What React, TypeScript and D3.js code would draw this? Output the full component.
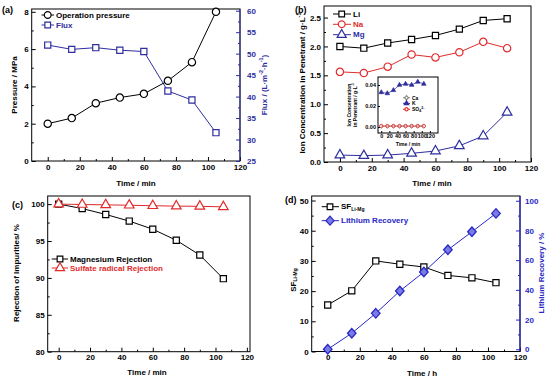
import React, { useEffect, useRef } from "react";
import * as d3 from "d3";

// time points shared by every panel
const time = [0, 15, 30, 45, 60, 75, 90, 105];

// (a)
const pressure = [2.0, 2.3, 3.1, 3.4, 3.6, 4.3, 5.3, 8.0];
const flux = [52.0, 51.0, 51.4, 50.8, 50.5, 41.3, 39.2, 31.6];

// (b)
const li = [2.0, 1.97, 2.06, 2.12, 2.19, 2.3, 2.45, 2.48];
const na = [1.56, 1.54, 1.65, 1.86, 1.81, 1.9, 2.08, 1.97];
const mg = [0.12, 0.11, 0.12, 0.15, 0.19, 0.28, 0.45, 0.86];
const kIon = [0.033, 0.032, 0.035, 0.04, 0.041, 0.04, 0.043, 0.041];
const caIon = [0.0008, 0.0008, 0.0008, 0.0008, 0.0008, 0.0008, 0.0008, 0.0008];
const so4Ion = [0.0009, 0.0009, 0.0009, 0.0009, 0.0009, 0.0009, 0.0009, 0.0009];

// (c)
const mgRejection = [100, 99.4, 98.6, 97.7, 96.6, 95.1, 93.1, 89.9];
const sulfateRejection = [100, 99.95, 99.9, 99.85, 99.78, 99.73, 99.7, 99.63];

// (d)
const sfLiMg = [15.4, 20.1, 30.0, 28.9, 28.0, 25.2, 24.4, 22.8];
const liRecovery = [0, 10.8, 24.2, 39.2, 52.0, 67.0, 79.1, 91.5];

const xTicks = [0, 20, 40, 60, 80, 100, 120];
const xMinor = [10, 30, 50, 70, 90, 110];

const FONT = "'Liberation Sans', Arial, sans-serif";
const RED = "#e02b2b";
const NAVY = "#2e2e9e";
const BLUE = "#2828c4";

// rhombus a bit wider than d3's own diamond
const wideDiamond = {
  draw(ctx: any, size: number) {
    const h = Math.sqrt(size) * 0.75;
    const w = h * 0.9;
    ctx.moveTo(0, -h);
    ctx.lineTo(w, 0);
    ctx.lineTo(0, h);
    ctx.lineTo(-w, 0);
    ctx.closePath();
  },
};

const App = () => {
  const svgRef = useRef<SVGSVGElement>(null);

  useEffect(() => {
    const svg = d3.select(svgRef.current);
    svg.selectAll("*").remove();

    const styleAxis = (a: any, color: string, fs = 8) => {
      a.select(".domain").remove();
      a.selectAll("line").attr("stroke", color);
      a.selectAll("text")
        .attr("fill", color)
        .style("font-family", FONT)
        .style("font-weight", "bold")
        .style("font-size", fs + "px");
    };

    const axis = (g: any, ax: any, tr: string, color = "#000", fs = 8) => {
      const a = g.append("g").attr("transform", tr).call(ax);
      styleAxis(a, color, fs);
      return a;
    };

    const frame = (g: any, x0: number, x1: number, y0: number, y1: number) => {
      g.append("rect")
        .attr("x", x0)
        .attr("y", y0)
        .attr("width", x1 - x0)
        .attr("height", y1 - y0)
        .attr("fill", "white")
        .attr("stroke", "#000")
        .attr("stroke-width", 1);
    };

    const series = (
      g: any,
      x: any,
      y: any,
      vals: number[],
      color: string,
      type: any,
      size: number,
      fill = "white",
      sw = 1.2
    ) => {
      const line = d3
        .line<number>()
        .x((_, i) => x(time[i]))
        .y((d) => y(d));
      g.append("path")
        .attr("d", line(vals))
        .attr("fill", "none")
        .attr("stroke", color)
        .attr("stroke-width", 1);
      g.selectAll(null)
        .data(vals)
        .join("path")
        .attr("d", d3.symbol(type, size)())
        .attr("transform", (d: number, i: number) => `translate(${x(time[i])},${y(d)})`)
        .attr("fill", fill)
        .attr("stroke", color)
        .attr("stroke-width", sw);
    };

    const legendItem = (
      g: any,
      lx0: number,
      lx1: number,
      mx: number,
      yy: number,
      color: string,
      type: any,
      size: number,
      label: string,
      textColor: string,
      fill = "white",
      fs = 8
    ) => {
      g.append("line")
        .attr("x1", lx0)
        .attr("x2", lx1)
        .attr("y1", yy)
        .attr("y2", yy)
        .attr("stroke", color)
        .attr("stroke-width", 1);
      g.append("path")
        .attr("d", d3.symbol(type, size)())
        .attr("transform", `translate(${mx},${yy})`)
        .attr("fill", fill)
        .attr("stroke", color)
        .attr("stroke-width", 1.2);
      return g
        .append("text")
        .attr("x", lx1 + 2)
        .attr("y", yy)
        .attr("dominant-baseline", "central")
        .attr("fill", textColor)
        .style("font", `bold ${fs}px ${FONT}`)
        .text(label);
    };

    const title = (g: any, x: number, y: number, rot: boolean, color = "#000", fs = 8) =>
      g
        .append("text")
        .attr("transform", `translate(${x},${y})${rot ? " rotate(-90)" : ""}`)
        .attr("text-anchor", "middle")
        .attr("dominant-baseline", "central")
        .attr("fill", color)
        .style("font", `bold ${fs}px ${FONT}`);

    const sup = (t: any, s: string) =>
      t.append("tspan").attr("dy", -3).style("font-size", "5.5px").text(s);
    const back = (t: any, s: string) => t.append("tspan").attr("dy", 3).text(s);

    const panelLabel = (x: number, y: number, s: string) =>
      svg
        .append("text")
        .attr("x", x)
        .attr("y", y)
        .attr("dominant-baseline", "central")
        .style("font", `bold 9px ${FONT}`)
        .text(s);

    const bottomAxes = (g: any, x: any, y1: number) => {
      axis(g, d3.axisBottom(x).tickValues(xTicks).tickSize(-4).tickPadding(3), `translate(0,${y1})`);
      axis(g, d3.axisBottom(x).tickValues(xMinor).tickSize(-2).tickFormat(() => ""), `translate(0,${y1})`);
    };

    // ---------- (a) ----------
    {
      const g = svg.append("g");
      const [x0, x1, y0, y1] = [31.7, 240, 9, 161];
      frame(g, x0, x1, y0, y1);
      const x = d3.scaleLinear().domain([-10, 120]).range([x0, x1]);
      const yL = d3.scaleLinear().domain([0, 8.15]).range([y1, y0]);
      const yR = d3.scaleLinear().domain([25, 60.4]).range([y1, y0]);
      bottomAxes(g, x, y1);
      axis(g, d3.axisLeft(yL).tickValues([0, 2, 4, 6, 8]).tickSize(-4).tickPadding(3), `translate(${x0},0)`);
      axis(g, d3.axisLeft(yL).tickValues([1, 3, 5, 7]).tickSize(-2).tickFormat(() => ""), `translate(${x0},0)`);
      g.append("line").attr("x1", x1).attr("x2", x1).attr("y1", y0).attr("y2", y1).attr("stroke", NAVY);
      axis(g, d3.axisRight(yR).tickValues(d3.range(25, 61, 5)).tickSize(-4).tickPadding(7), `translate(${x1},0)`, NAVY);
      axis(g, d3.axisRight(yR).tickValues(d3.range(27.5, 60, 5)).tickSize(-2).tickFormat(() => ""), `translate(${x1},0)`, NAVY);
      series(g, x, yR, flux, NAVY, d3.symbolSquare, 38);
      series(g, x, yL, pressure, "#000", d3.symbolCircle, 42);
      legendItem(g, 41.5, 54, 47.7, 15, "#000", d3.symbolCircle, 36, "Operation pressure", "#000");
      legendItem(g, 41.5, 54, 47.7, 25, NAVY, d3.symbolSquare, 32, "Flux", NAVY);
      title(g, 14.7, 85, true).text("Pressure / MPa");
      const t = title(g, 264, 85, true, NAVY);
      t.append("tspan").text("Flux / (L·m");
      sup(t, "-2");
      back(t, "·h");
      sup(t, "-1");
      back(t, ")");
      title(g, 136, 183, false).text("Time / min");
      panelLabel(2, 10, "(a)");
    }

    // ---------- (b) ----------
    {
      const g = svg.append("g");
      const [x0, x1, y0, y1] = [324, 531, 6, 162];
      frame(g, x0, x1, y0, y1);
      const x = d3.scaleLinear().domain([-10, 120]).range([x0, x1]);
      const y = d3.scaleLinear().domain([0, 2.7]).range([y1, y0]);
      bottomAxes(g, x, y1);
      axis(g, d3.axisLeft(y).tickValues(d3.range(0, 2.51, 0.5)).tickFormat(d3.format(".1f")).tickSize(-4).tickPadding(3), `translate(${x0},0)`);
      axis(g, d3.axisLeft(y).tickValues(d3.range(0.25, 2.6, 0.5)).tickSize(-2).tickFormat(() => ""), `translate(${x0},0)`);
      series(g, x, y, li, "#000", d3.symbolSquare, 38);
      series(g, x, y, na, RED, d3.symbolCircle, 42);
      series(g, x, y, mg, NAVY, d3.symbolTriangle, 40);
      legendItem(g, 333, 351, 341.7, 14, "#000", d3.symbolSquare, 32, "Li", "#000");
      legendItem(g, 333, 351, 341.7, 24.3, RED, d3.symbolCircle, 36, "Na", RED);
      legendItem(g, 333, 351, 341.7, 34.7, NAVY, d3.symbolTriangle, 36, "Mg", NAVY);
      const t = title(g, 301.7, 83, true);
      t.append("tspan").text("Ion Concentration in Penetrant / g·L");
      sup(t, "-1");
      title(g, 432, 183, false).text("Time / min");
      panelLabel(295, 10, "(b)");

      // inset
      const [ix0, ix1, iy0, iy1] = [378, 438, 77, 133];
      frame(g, ix0, ix1, iy0, iy1);
      const ix = d3.scaleLinear().domain([-8, 140]).range([ix0, ix1]);
      const iy = d3.scaleLinear().domain([-0.0057, 0.0476]).range([iy1, iy0]);
      axis(g, d3.axisBottom(ix).tickValues(xTicks).tickSize(-2).tickPadding(1.5), `translate(0,${iy1})`, "#000", 5.5);
      axis(g, d3.axisLeft(iy).tickValues([0, 0.02, 0.04]).tickFormat(d3.format(".2f")).tickSize(-2).tickPadding(2), `translate(${ix0},0)`, "#000", 5.5);
      const iline = (vals: number[], color: string, type: any, size: number, fill: string) => {
        const line = d3.line<number>().x((_, i) => ix(time[i])).y((d) => iy(d));
        g.append("path").attr("d", line(vals)).attr("fill", "none").attr("stroke", color).attr("stroke-width", 0.7);
        g.selectAll(null)
          .data(vals)
          .join("path")
          .attr("d", d3.symbol(type, size)())
          .attr("transform", (d: number, i: number) => `translate(${ix(time[i])},${iy(d)})`)
          .attr("fill", fill)
          .attr("stroke", color)
          .attr("stroke-width", 0.7);
      };
      iline(caIon, "#888", wideDiamond, 9, "white");
      iline(so4Ion, RED, d3.symbolCircle, 9, "none");
      iline(kIon, NAVY, d3.symbolTriangle, 9, NAVY);
      legendItem(g, 403, 410, 406.5, 97.7, "#888", wideDiamond, 8, "Ca", "#000", "white", 5);
      legendItem(g, 403, 410, 406.5, 103.3, NAVY, d3.symbolTriangle, 8, "K", "#000", NAVY, 5);
      const so = legendItem(g, 403, 410, 406.5, 109.3, RED, d3.symbolCircle, 8, "SO", "#000", "white", 5);
      so.append("tspan").attr("dy", 1.2).style("font-size", "3.5px").text("4");
      so.append("tspan").attr("dy", -2.6).style("font-size", "3.5px").text("2-");
      const it = title(g, 352, 105, true, "#000", 5);
      it.append("tspan").attr("x", 0).attr("dy", "-0.6em").text("Ion Concentration");
      it.append("tspan").attr("x", 0).attr("dy", "1.2em").text("in Penetrant / g·L");
      it.append("tspan").attr("dy", -2).style("font-size", "3.5px").text("-1");
      title(g, 408, 144, false, "#000", 5).text("Time / min");
    }

    // ---------- (c) ----------
    {
      const g = svg.append("g");
      const [x0, x1, y0, y1] = [47.7, 250, 196, 351.7];
      frame(g, x0, x1, y0, y1);
      const x = d3.scaleLinear().domain([-7, 122]).range([x0, x1]);
      const y = d3.scaleLinear().domain([80, 101.1]).range([y1, y0]);
      bottomAxes(g, x, y1);
      axis(g, d3.axisLeft(y).tickValues([80, 85, 90, 95, 100]).tickSize(-4).tickPadding(3), `translate(${x0},0)`);
      axis(g, d3.axisLeft(y).tickValues([82.5, 87.5, 92.5, 97.5]).tickSize(-2).tickFormat(() => ""), `translate(${x0},0)`);
      series(g, x, y, mgRejection, "#000", d3.symbolSquare, 38);
      series(g, x, y, sulfateRejection, RED, d3.symbolTriangle, 40);
      legendItem(g, 51.7, 68, 60, 259, "#000", d3.symbolSquare, 32, "Magnesium Rejection", "#000");
      legendItem(g, 51.7, 68, 60, 268, RED, d3.symbolTriangle, 36, "Sulfate radical Rejection", RED);
      title(g, 16.7, 273, true).text("Rejection of Impurities/ %");
      title(g, 147, 372, false).text("Time / min");
      panelLabel(12, 205, "(c)");
    }

    // ---------- (d) ----------
    {
      const g = svg.append("g");
      const [x0, x1, y0, y1] = [311.7, 520, 196, 351.5];
      frame(g, x0, x1, y0, y1);
      const x = d3.scaleLinear().domain([-10, 120]).range([x0, x1]);
      const yL = d3.scaleLinear().domain([0, 51.5]).range([y1, y0]);
      const yR = d3.scaleLinear().domain([-1.5, 103.2]).range([y1, y0]);
      bottomAxes(g, x, y1);
      axis(g, d3.axisLeft(yL).tickValues([0, 10, 20, 30, 40, 50]).tickSize(-4).tickPadding(3), `translate(${x0},0)`);
      axis(g, d3.axisLeft(yL).tickValues([5, 15, 25, 35, 45]).tickSize(-2).tickFormat(() => ""), `translate(${x0},0)`);
      g.append("line").attr("x1", x1).attr("x2", x1).attr("y1", y0).attr("y2", y1).attr("stroke", BLUE).attr("stroke-width", 1.2);
      axis(g, d3.axisRight(yR).tickValues([0, 20, 40, 60, 80, 100]).tickSize(-4).tickPadding(5), `translate(${x1},0)`, BLUE);
      axis(g, d3.axisRight(yR).tickValues([10, 30, 50, 70, 90]).tickSize(-2).tickFormat(() => ""), `translate(${x1},0)`, BLUE);
      series(g, x, yL, sfLiMg, "#000", d3.symbolSquare, 38);
      series(g, x, yR, liRecovery, BLUE, wideDiamond, 40, "#7b7be6", 1.3);
      const s = legendItem(g, 321.7, 339, 330, 206.7, "#000", d3.symbolSquare, 32, "SF", "#000");
      s.append("tspan").attr("dy", 2).style("font-size", "5px").text("Li-Mg");
      legendItem(g, 321.7, 339, 330, 220.7, BLUE, wideDiamond, 36, "Lithium Recovery", BLUE, "#7b7be6");
      const t = title(g, 293, 280, true);
      t.append("tspan").text("SF");
      t.append("tspan").attr("dy", 2).style("font-size", "5px").text("Li-Mg");
      title(g, 541.7, 273, true, BLUE).text("Lithium Recovery / %");
      title(g, 422, 373, false).text("Time / h");
      panelLabel(285, 200, "(d)");
    }
  }, []);

  return (
    <svg
      ref={svgRef}
      width={550}
      height={380}
      style={{ position: "absolute", left: 0, top: 0, background: "white" }}
    />
  );
};

export default App;
